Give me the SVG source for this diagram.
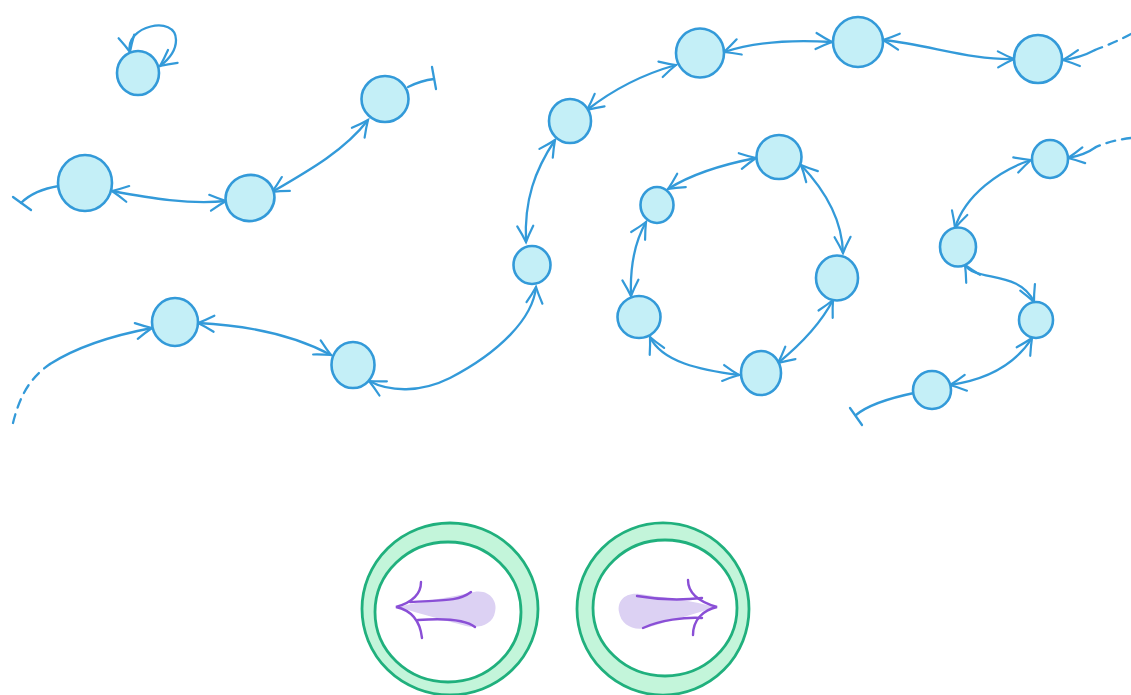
<svg xmlns="http://www.w3.org/2000/svg" width="1131" height="695" viewBox="0 0 1131 695">
  <style>
    .node { fill: #c4eff7; stroke: #339ad9; stroke-width: 2.6; }
    .edge { fill: none; stroke: #339ad9; stroke-width: 2.3; stroke-linecap: round; }
    .both { marker-start: url(#chev); marker-end: url(#chev); }
    .end { marker-end: url(#chev); }
    .dash { stroke-dasharray: 9 7; }
    .ring { fill: #c3f5da; fill-rule: evenodd; stroke: #20b07d; stroke-width: 2.8; }
    .blob { fill: #dcd1f3; }
    .pline { fill: none; stroke: #8a4fd6; stroke-width: 2.4; stroke-linecap: round; }
  </style>
  <defs>
    <marker id="chev" viewBox="-18 -12 22 24" refX="0" refY="0" markerWidth="22" markerHeight="24" markerUnits="userSpaceOnUse" orient="auto-start-reverse">
      <path d="M -16 -8 Q -7 -3 0 0 Q -7 3 -16 8" fill="none" stroke="#339ad9" stroke-width="2.2" stroke-linecap="round"/>
    </marker>
  </defs>
  <rect width="1131" height="695" fill="#ffffff"/>

  <!-- connectors -->
  <g id="connectors">
    <path class="edge both" d="M 130 52 C 124 26, 176 14, 176 40 C 176 52, 168 60, 160 66"/>
    <path class="edge" d="M 59 186 C 40 189, 28 196, 21 203"/>
    <path class="edge" d="M 13 197 L 31 210"/>
    <path class="edge both" d="M 112 191 C 150 198, 190 205, 226 201"/>
    <path class="edge both" d="M 272 192 C 310 170, 345 150, 368 120"/>
    <path class="edge" d="M 408 87 C 418 82, 425 80, 434 79"/>
    <path class="edge" d="M 432 67 L 436 89"/>
    <path class="edge dash" d="M 13 423 C 20 395, 30 378, 50 364"/>
    <path class="edge end" d="M 50 364 C 80 345, 115 335, 152 328"/>
    <path class="edge both" d="M 198 323 C 240 325, 290 333, 331 355"/>
    <path class="edge both" d="M 369 381 C 390 392, 420 393, 450 378 C 500 352, 533 318, 536 287"/>
    <path class="edge both" d="M 526 242 C 524 200, 535 170, 555 140"/>
    <path class="edge both" d="M 587 110 C 610 92, 640 75, 676 65"/>
    <path class="edge both" d="M 724 52 C 760 40, 800 40, 832 42"/>
    <path class="edge both" d="M 883 40 C 930 45, 970 60, 1014 59"/>
    <path class="edge dash" d="M 1131 34 Q 1114 43 1095 50"/>
    <path class="edge end" d="M 1095 50 Q 1080 58 1063 60"/>
    <path class="edge both" d="M 668 189 C 690 175, 720 165, 756 158"/>
    <path class="edge both" d="M 801 165 C 820 185, 842 215, 843 253"/>
    <path class="edge both" d="M 833 300 C 820 325, 800 345, 778 363"/>
    <path class="edge both" d="M 739 375 C 700 370, 662 362, 650 337"/>
    <path class="edge both" d="M 631 296 C 630 270, 633 245, 646 222"/>
    <path class="edge dash" d="M 1131 138 Q 1112 140 1096 147"/>
    <path class="edge end" d="M 1096 147 Q 1085 155 1068 158"/>
    <path class="edge both" d="M 1031 160 C 1000 170, 965 195, 955 228"/>
    <path class="edge both" d="M 965 265 C 975 282, 1020 270, 1034 302"/>
    <path class="edge both" d="M 1032 338 C 1015 365, 985 380, 950 385"/>
    <path class="edge" d="M 914 393 C 890 398, 868 405, 856 415"/>
    <path class="edge" d="M 850 408 L 862 425"/>
  </g>

  <!-- state nodes -->
  <g id="n1"><ellipse class="node" cx="138" cy="73" rx="21" ry="22"/></g>
  <g id="n2"><ellipse class="node" cx="85" cy="183" rx="27" ry="28"/></g>
  <g id="n3"><ellipse class="node" cx="250" cy="198" rx="24.5" ry="23" transform="rotate(-15 250 198)"/></g>
  <g id="n4"><ellipse class="node" cx="385" cy="99" rx="23.5" ry="23"/></g>
  <g id="n5"><ellipse class="node" cx="175" cy="322" rx="23" ry="24"/></g>
  <g id="n6"><ellipse class="node" cx="353" cy="365" rx="21.5" ry="23"/></g>
  <g id="n7"><ellipse class="node" cx="532" cy="265" rx="18.5" ry="19"/></g>
  <g id="n8"><ellipse class="node" cx="570" cy="121" rx="21" ry="22"/></g>
  <g id="n9"><ellipse class="node" cx="700" cy="53" rx="24" ry="24.5"/></g>
  <g id="n10"><ellipse class="node" cx="858" cy="42" rx="25" ry="25"/></g>
  <g id="n11"><ellipse class="node" cx="1038" cy="59" rx="24" ry="24"/></g>
  <g id="n12"><ellipse class="node" cx="657" cy="205" rx="16.5" ry="18"/></g>
  <g id="n13"><ellipse class="node" cx="779" cy="157" rx="22.5" ry="22"/></g>
  <g id="n14"><ellipse class="node" cx="639" cy="317" rx="21.5" ry="21"/></g>
  <g id="n15"><ellipse class="node" cx="837" cy="278" rx="21" ry="22.5"/></g>
  <g id="n16"><ellipse class="node" cx="761" cy="373" rx="20" ry="22"/></g>
  <g id="n17"><ellipse class="node" cx="1050" cy="159" rx="18" ry="19"/></g>
  <g id="n18"><ellipse class="node" cx="958" cy="247" rx="18" ry="19.5"/></g>
  <g id="n19"><ellipse class="node" cx="1036" cy="320" rx="17" ry="18"/></g>
  <g id="n20"><ellipse class="node" cx="932" cy="390" rx="19" ry="19"/></g>

  <!-- left button: arrow pointing left -->
  <g id="btn-left">
    <path class="ring" d="M 362 609 A 88 86 0 1 0 538 609 A 88 86 0 1 0 362 609 Z M 375 612 A 73 70 0 1 1 521 612 A 73 70 0 1 1 375 612 Z"/>
    <path class="blob" d="M 398 607 C 420 601, 450 598, 474 592 C 490 589, 498 602, 495 612 C 493 624, 480 629, 466 626 C 448 621, 420 614, 398 607 Z"/>
    <path class="pline" d="M 421 582 C 421 595, 410 603, 396 607 C 410 610, 420 620, 422 638"/>
    <path class="pline" d="M 410 602 C 440 600, 458 602, 471 592"/>
    <path class="pline" d="M 418 620 C 445 618, 465 619, 475 627"/>
  </g>

  <!-- right button: arrow pointing right -->
  <g id="btn-right">
    <path class="ring" d="M 577 609 A 86 86 0 1 0 749 609 A 86 86 0 1 0 577 609 Z M 593 608 A 72 68 0 1 1 737 608 A 72 68 0 1 1 593 608 Z"/>
    <path class="blob" d="M 715 607 C 695 601, 665 598, 640 594 C 624 592, 617 602, 619 612 C 621 624, 632 631, 646 628 C 665 622, 695 614, 715 607 Z"/>
    <path class="pline" d="M 688 580 C 688 595, 703 603, 717 607 C 703 610, 693 620, 693 635"/>
    <path class="pline" d="M 637 596 C 660 600, 685 600, 702 598"/>
    <path class="pline" d="M 643 628 C 660 620, 685 617, 702 618"/>
  </g>
</svg>
